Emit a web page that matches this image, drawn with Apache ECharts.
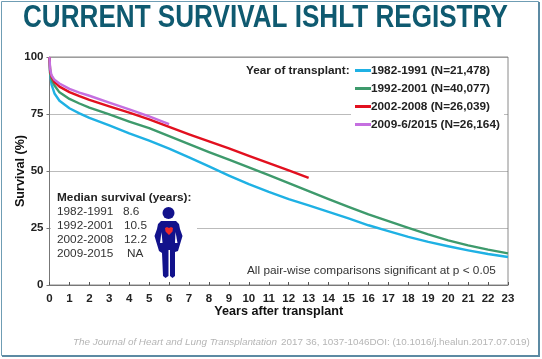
<!DOCTYPE html>
<html>
<head>
<meta charset="utf-8">
<style>html,body{margin:0;padding:0;background:#fff}#chart{width:542px;height:359px}</style>
<script src="https://cdn.jsdelivr.net/npm/echarts@6/dist/echarts.min.js"></script>
</head>
<body>
<div id="chart"></div>
<script>
const yearsEarly = [0, 0.03, 0.1, 0.25, 0.5, 1, 1.5, 2, 3, 4, 5, 6];
const yearsLong = yearsEarly.concat([7, 8, 9, 10, 11, 12, 13, 14, 15, 16, 17, 18, 19, 20, 21, 22, 23]);
const yearsMid = yearsLong.slice(0, 19);

const survival1982 = [100, 93, 88, 84, 80.8, 77.5, 75.3, 73.3, 70, 66.5, 63.3, 59.8, 56, 52, 48, 44.2, 40.8, 37.7, 34.9, 32.1, 29.2, 26.2, 23.6, 21.1, 18.9, 17, 15.2, 13.6, 12.3];
const survival1992 = [100, 93, 90, 87.5, 84.5, 81.6, 79.6, 77.8, 74.8, 71.7, 68.8, 65.3, 61.8, 58.3, 55, 51.6, 48.2, 44.7, 41.2, 37.7, 34.3, 31, 28, 25.1, 22.2, 19.6, 17.4, 15.5, 13.9];
const survival2002 = [100, 94, 91.5, 89, 87, 84.6, 82.8, 81.2, 78.3, 75.6, 72.6, 69.3, 66.1, 63, 59.9, 56.6, 53.4, 50.3, 47];
const survival2009 = [100, 95, 92, 90, 88.4, 86, 84.4, 83, 80, 77, 74, 70.6];

const seriesNames = ['1982-1991 (N=21,478)', '1992-2001 (N=40,077)', '2002-2008 (N=26,039)', '2009-6/2015 (N=26,164)'];
const seriesColors = ['#1fb1e4', '#3e9a6c', '#e2101f', '#c56fe0'];
const medianRows = [['1982-1991', '8.6'], ['1992-2001', '10.5'], ['2002-2008', '12.2'], ['2009-2015', 'NA']];

const pairs = (xs, ys) => ys.map((y, i) => [xs[i], y]);
const curves = [
    pairs(yearsLong, survival1982),
    pairs(yearsLong, survival1992),
    pairs(yearsMid, survival2002),
    pairs(yearsEarly, survival2009)
];

const font = '"Liberation Sans", Arial, sans-serif';

function label(x, y, text, size, color, extra) {
    return {
        type: 'text', x: x, y: y, z: 5,
        style: Object.assign({ text: text, font: size + 'px ' + font, fill: color, textVerticalAlign: 'middle' }, extra || {})
    };
}

const medianText = [label(57, 197.5, 'Median survival (years):', 11.8, '#222', { font: 'bold 11.8px ' + font })];
medianRows.forEach((row, i) => {
    const y = 212 + i * 14;
    medianText.push(label(57, y, row[0], 11.8, '#333'));
    medianText.push(label(row[1] === 'NA' ? 127 : (row[1] === '8.6' ? 123 : 124), y, row[1], 11.8, '#333'));
});

var myChart = echarts.init(document.getElementById('chart'), null, { renderer: 'canvas' });

var option = {
    animation: false,
    textStyle: { fontFamily: font },
    grid: { left: 49.5, right: 34, top: 57, bottom: 74, outerBoundsMode: 'none', show: true, borderColor: '#8a8a8a', borderWidth: 1 },
    xAxis: {
        type: 'value', min: 0, max: 23, interval: 1,
        name: 'Years after transplant', nameLocation: 'middle', nameGap: 20, nameMoveOverlap: false,
        nameTextStyle: { fontSize: 12.6, fontWeight: 'bold', color: '#111' },
        axisLine: { show: true, lineStyle: { color: '#777' } },
        axisTick: { show: true, inside: true, length: 3, lineStyle: { color: '#555' } },
        axisLabel: { fontSize: 11.5, fontWeight: 'bold', color: '#222', margin: 8, hideOverlap: false },
        splitLine: { show: false }
    },
    yAxis: {
        type: 'value', min: 0, max: 100, interval: 25,
        name: 'Survival (%)', nameLocation: 'middle', nameGap: 22, nameMoveOverlap: false,
        nameTextStyle: { fontSize: 12.6, fontWeight: 'bold', color: '#111' },
        axisLine: { show: true, lineStyle: { color: '#777' } },
        axisTick: { show: true, length: 3, lineStyle: { color: '#777' } },
        axisLabel: { fontSize: 11.5, fontWeight: 'bold', color: '#222', margin: 6 },
        splitLine: { show: true, lineStyle: { type: [1, 1], color: '#777', width: 1 } }
    },
    legend: {
        orient: 'vertical', left: 355, top: 64, padding: 0, itemWidth: 16, itemHeight: 3, itemGap: 5,
        icon: 'rect', selectedMode: false,
        textStyle: { fontSize: 11.8, fontWeight: 'bold', color: '#222', padding: [0, 0, 0, -5], height: 13, lineHeight: 13 },
        data: seriesNames
    },
    series: curves.map((data, i) => ({
        name: seriesNames[i], type: 'line', data: data,
        showSymbol: false, smooth: false,
        lineStyle: { width: 2.4, color: seriesColors[i], join: 'round' },
        itemStyle: { color: seriesColors[i] },
        z: 2 + i
    })),
    graphic: [
        // frame round the slide
        { type: 'rect', shape: { x: 1.5, y: 1.5, width: 537, height: 354 }, style: { fill: 'none', stroke: '#6f9db4', lineWidth: 1 }, z: 1 },
        { type: 'line', shape: { x1: 539, y1: 2, x2: 539, y2: 356 }, style: { stroke: '#5c8aa3', lineWidth: 2 }, z: 1 },
        { type: 'line', shape: { x1: 2, y1: 356, x2: 540, y2: 356 }, style: { stroke: '#5c8aa3', lineWidth: 2 }, z: 1 },

        // white patches that break the dotted lines behind the notes
        { type: 'rect', shape: { x: 351, y: 110, width: 153, height: 8 }, style: { fill: '#fff' }, z: 1 },
        { type: 'rect', shape: { x: 51, y: 223, width: 146, height: 8 }, style: { fill: '#fff' }, z: 1 },

        {
            type: 'text', x: 23, y: 18, z: 5, scaleX: 0.842,
            style: { text: 'CURRENT SURVIVAL ISHLT REGISTRY', font: 'bold 31px ' + font, fill: '#0f5a70', textVerticalAlign: 'middle' }
        },
        label(246, 71, 'Year of transplant:', 11.8, '#222', { font: 'bold 11.8px ' + font }),
        label(247, 271, 'All pair-wise comparisons significant at p < 0.05', 11.8, '#333'),
        label(73, 342, 'The Journal of Heart and Lung Transplantation', 9.9, '#b5b5b5', { font: 'italic 9.9px ' + font }),
        label(281, 342, '2017 36, 1037-1046DOI: (10.1016/j.healun.2017.07.019)', 9.9, '#b5b5b5'),

        // person with heart
        { type: 'circle', shape: { cx: 168.5, cy: 213, r: 6 }, style: { fill: '#12128c' }, z: 5 },
        {
            type: 'polygon', z: 5,
            shape: { points: [[161, 221], [176, 221], [179, 224], [180, 229], [182.5, 236], [178, 251], [175, 252], [175, 276], [172.5, 278], [170, 276], [170, 250], [168.5, 250], [168.5, 276], [165.5, 278], [163, 276], [162, 253], [159, 251], [154.5, 236], [157, 229], [158, 224]] },
            style: { fill: '#12128c' }
        },
        { type: 'polygon', z: 6, shape: { points: [[161.5, 232], [162.5, 243], [160, 243]] }, style: { fill: '#fff' } },
        { type: 'polygon', z: 6, shape: { points: [[175.5, 232], [177.5, 243], [175, 243]] }, style: { fill: '#fff' } },
        {
            type: 'polygon', z: 6,
            shape: { points: [[169, 235], [165.5, 231.5], [165, 228], [167, 227], [169, 228], [171, 227], [173, 228], [172.5, 231.5]] },
            style: { fill: '#ee2a2a' }
        },
        ...medianText
    ]
};

myChart.setOption(option);
window.addEventListener('resize', myChart.resize);
</script>
</body>
</html>
